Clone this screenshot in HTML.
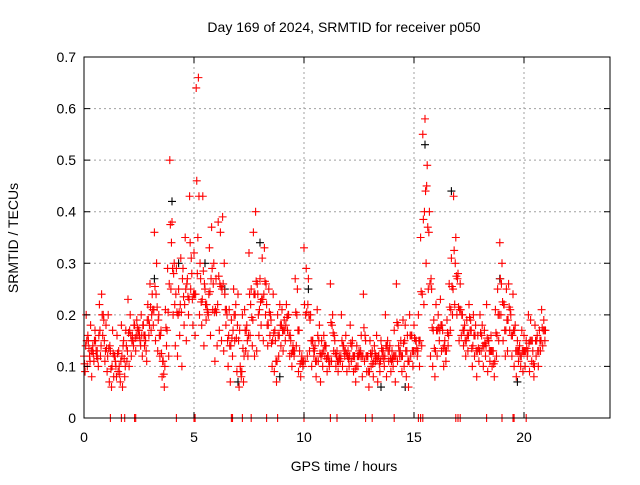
<!DOCTYPE html>
<html><head><meta charset="utf-8"><style>
body{margin:0;background:#fff}
svg text{font-family:"Liberation Sans",sans-serif;font-size:14px;fill:#000}
</style></head><body>
<svg width="640" height="480">
<g id="grid"></g>
<g id="pts"></g>
<rect x="84" y="57" width="526" height="361" fill="none" stroke="#000"/>
<g id="ticks"></g>
<text x="344" y="32" text-anchor="middle">Day 169 of 2024, SRMTID for receiver p050</text>
<text x="344" y="471" text-anchor="middle">GPS time / hours</text>
<text transform="translate(18,238) rotate(-90)" text-anchor="middle">SRMTID / TECUs</text>
</svg>
<script>
const xTicks=[0,5,10,15,20];
const yTicks=[0,0.1,0.2,0.3,0.4,0.5,0.6,0.7];
const yTickLabels=["0","0.1","0.2","0.3","0.4","0.5","0.6","0.7"];
const startHour=0, stepHour=0.1;
const seriesUpper=[0.12,0.2,0.15,0.18,0.14,0.17,0.13,0.22,0.24,0.19,
0.18,0.2,0.13,0.17,0.12,0.16,0.1,0.18,0.15,0.17,
0.23,0.2,0.16,0.18,0.19,0.17,0.2,0.18,0.15,0.22,
0.26,0.24,0.36,0.3,0.2,0.17,0.11,0.21,0.29,0.5,
0.38,0.3,0.29,0.25,0.31,0.29,0.35,0.27,0.43,0.28,
0.32,0.64,0.66,0.27,0.43,0.25,0.21,0.33,0.37,0.3,
0.27,0.38,0.36,0.39,0.24,0.2,0.21,0.19,0.25,0.22,
0.24,0.1,0.2,0.21,0.18,0.32,0.25,0.36,0.4,0.24,
0.27,0.31,0.33,0.22,0.25,0.19,0.24,0.15,0.2,0.22,
0.21,0.19,0.22,0.2,0.15,0.14,0.27,0.25,0.13,0.12,
0.33,0.29,0.27,0.2,0.15,0.14,0.21,0.18,0.15,0.16,
0.14,0.12,0.26,0.2,0.15,0.13,0.12,0.2,0.14,0.16,
0.13,0.18,0.15,0.12,0.14,0.13,0.16,0.24,0.15,0.12,
0.15,0.13,0.14,0.16,0.12,0.15,0.13,0.2,0.15,0.14,
0.13,0.17,0.26,0.14,0.15,0.19,0.18,0.16,0.2,0.16,
0.18,0.15,0.2,0.35,0.55,0.58,0.49,0.4,0.25,0.19,
0.22,0.2,0.23,0.17,0.15,0.19,0.26,0.31,0.43,0.35,
0.28,0.26,0.2,0.18,0.19,0.22,0.17,0.2,0.18,0.16,
0.2,0.18,0.17,0.22,0.15,0.16,0.13,0.21,0.25,0.34,
0.3,0.22,0.25,0.26,0.2,0.24,0.18,0.15,0.14,0.17,
0.16,0.15,0.2,0.19,0.13,0.18,0.16,0.17,0.21,0.19];
const seriesLower=[0.09,0.1,0.12,0.08,0.11,0.13,0.1,0.12,0.16,0.11,
0.09,0.07,0.06,0.08,0.1,0.09,0.07,0.06,0.08,0.11,
0.1,0.12,0.14,0.13,0.16,0.15,0.12,0.14,0.11,0.16,
0.17,0.18,0.15,0.13,0.12,0.08,0.06,0.14,0.12,0.25,
0.2,0.14,0.12,0.16,0.1,0.18,0.15,0.2,0.25,0.18,
0.16,0.28,0.2,0.18,0.14,0.19,0.2,0.16,0.21,0.11,
0.14,0.17,0.15,0.13,0.18,0.1,0.07,0.12,0.15,0.09,
0.06,0.08,0.07,0.13,0.12,0.16,0.14,0.12,0.13,0.16,
0.18,0.15,0.2,0.14,0.16,0.1,0.09,0.07,0.12,0.14,
0.13,0.15,0.17,0.12,0.1,0.12,0.14,0.09,0.08,0.1,
0.11,0.12,0.13,0.1,0.12,0.08,0.11,0.07,0.1,0.12,
0.09,0.1,0.11,0.13,0.1,0.09,0.11,0.1,0.12,0.09,
0.1,0.11,0.09,0.07,0.1,0.12,0.08,0.11,0.09,0.06,
0.1,0.08,0.11,0.07,0.09,0.12,0.1,0.08,0.11,0.09,
0.1,0.07,0.11,0.12,0.09,0.1,0.08,0.06,0.12,0.1,
0.13,0.12,0.1,0.14,0.22,0.3,0.25,0.12,0.1,0.08,
0.12,0.15,0.13,0.1,0.11,0.14,0.17,0.2,0.22,0.2,
0.15,0.16,0.14,0.12,0.13,0.17,0.1,0.12,0.08,0.11,
0.13,0.1,0.12,0.09,0.11,0.1,0.08,0.12,0.15,0.2,
0.15,0.12,0.13,0.17,0.12,0.1,0.08,0.11,0.1,0.09,
0.1,0.12,0.09,0.11,0.08,0.12,0.1,0.13,0.14,0.15];
const seriesMid=[0.14,0.16,0.11,0.13,0.15,0.12,0.16,0.14,0.2,0.13,
0.12,0.14,0.1,0.12,0.08,0.13,0.11,0.14,0.1,0.13,
0.17,0.15,0.18,0.16,0.17,0.14,0.18,0.16,0.19,0.18,
0.2,0.21,0.24,0.19,0.16,0.11,0.1,0.17,0.26,0.34,
0.28,0.24,0.2,0.22,0.27,0.22,0.26,0.23,0.31,0.24,
0.24,0.35,0.3,0.23,0.26,0.22,0.24,0.27,0.26,0.21,
0.22,0.26,0.25,0.3,0.21,0.16,0.14,0.17,0.2,0.18,
0.17,0.09,0.12,0.17,0.16,0.22,0.19,0.24,0.26,0.21,
0.23,0.24,0.26,0.18,0.2,0.15,0.17,0.11,0.16,0.18,
0.17,0.18,0.2,0.16,0.13,0.13,0.2,0.17,0.11,0.11,
0.2,0.22,0.19,0.15,0.13,0.11,0.15,0.12,0.13,0.14,
0.12,0.11,0.18,0.16,0.12,0.11,0.12,0.14,0.13,0.12,
0.12,0.14,0.12,0.1,0.12,0.13,0.12,0.16,0.12,0.09,
0.12,0.11,0.12,0.12,0.11,0.13,0.12,0.14,0.13,0.11,
0.12,0.12,0.18,0.13,0.12,0.15,0.13,0.11,0.16,0.13,
0.15,0.13,0.15,0.24,0.4,0.45,0.36,0.27,0.17,0.13,
0.17,0.17,0.18,0.14,0.13,0.16,0.21,0.25,0.3,0.27,
0.21,0.2,0.17,0.15,0.16,0.19,0.14,0.16,0.13,0.13,
0.16,0.14,0.14,0.15,0.13,0.13,0.11,0.16,0.2,0.26,
0.22,0.17,0.19,0.21,0.16,0.17,0.13,0.13,0.12,0.13,
0.13,0.13,0.15,0.15,0.1,0.15,0.13,0.15,0.17,0.17];
const zeroHours=[1.2,1.7,1.85,2.3,2.35,4.2,5.0,5.05,6.7,6.75,7.2,7.6,8.3,8.8,10.0,11.2,11.5,12.8,13.1,14.1,15.2,15.3,15.4,16.9,17.0,17.1,18.3,19.0,19.5,19.55,20.1];
const blackHours=[3.2,4.0,4.3,5.5,6.4,7.0,8.0,8.9,10.2,13.5,14.6,15.5,16.7,18.9,19.7];
const blackValues=[0.27,0.42,0.3,0.3,0.25,0.07,0.34,0.08,0.25,0.06,0.06,0.53,0.44,0.27,0.07];
const NS='http://www.w3.org/2000/svg';
const X=h=>84+h*22, Y=v=>418-v*(361/0.7);
function mk(tag,attrs,parent){const e=document.createElementNS(NS,tag);for(const k in attrs)e.setAttribute(k,attrs[k]);parent.appendChild(e);return e;}
const grid=document.getElementById('grid'),ticks=document.getElementById('ticks'),pts=document.getElementById('pts');
xTicks.forEach(t=>{
 if(t>0){const g=mk('line',{x1:X(t),x2:X(t),y1:57,y2:418,stroke:'#a0a0a0','stroke-dasharray':'2,3'},grid);
 
 }
 const tk=mk('path',{d:`M${X(t)},418v-6M${X(t)},57v6`,stroke:'#000'},ticks);
 
 
 const l=mk('text',{x:X(t),y:442,'text-anchor':'middle'},ticks);l.textContent=t;
 
 
});
yTicks.forEach((t,i)=>{
 if(t>0&&t<0.7){const g=mk('line',{x1:84,x2:610,y1:Y(t),y2:Y(t),stroke:'#a0a0a0','stroke-dasharray':'2,3'},grid);
 
 }
 const tk=mk('path',{d:`M84,${Y(t)}h6M610,${Y(t)}h-6`,stroke:'#000'},ticks);
 
 
 const l=mk('text',{x:76,y:Y(t)+5,'text-anchor':'end'},ticks);l.textContent=yTickLabels[i];
 
 
});
function plus(h,v,c){const x=X(h),y=Y(v);
 const p=mk('path',{d:`M${x-4},${y}h8M${x},${y-4}v8`,stroke:c,'stroke-width':1.1,fill:'none'},pts);
 
 }
blackHours.forEach((h,i)=>plus(h,blackValues[i],'#000'));
seriesUpper.forEach((v,i)=>plus(startHour+i*stepHour,v,'#f00'));
seriesLower.forEach((v,i)=>plus(startHour+i*stepHour+0.05,v,'#f00'));
seriesMid.forEach((v,i)=>plus(startHour+i*stepHour+0.075,v,'#f00'));
seriesUpper.forEach((v,i)=>plus(startHour+i*stepHour+0.025,(v+seriesLower[i])/2,'#f00'));
zeroHours.forEach(h=>plus(h,0,'#f00'));
</script>
</body></html>
